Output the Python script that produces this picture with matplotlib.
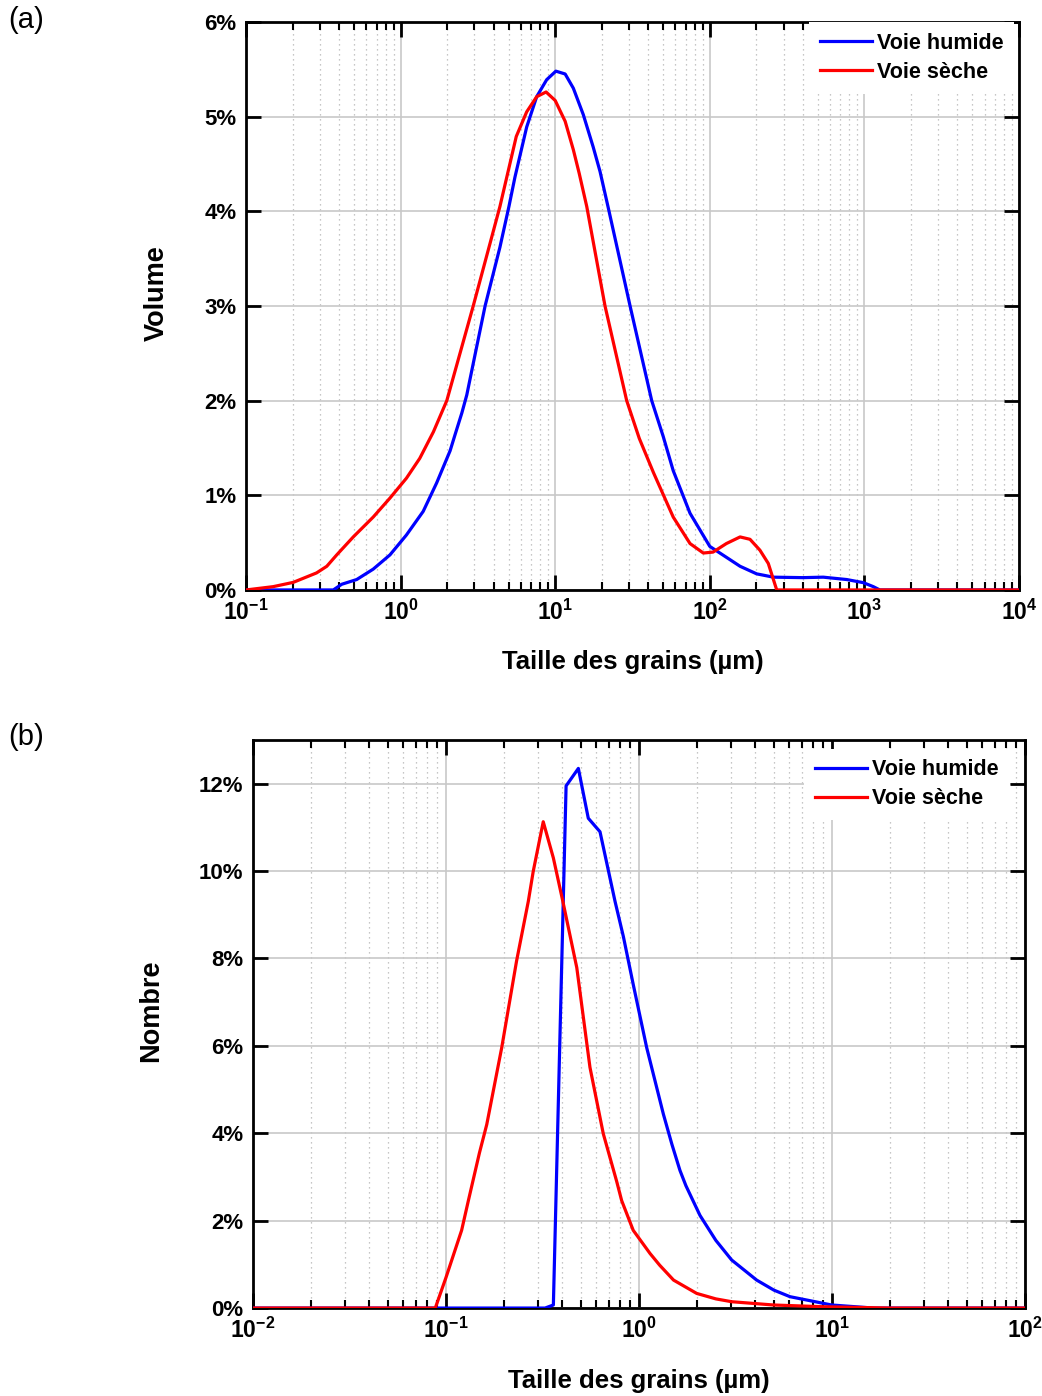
import numpy as np
import matplotlib
matplotlib.use('Agg')
import matplotlib.pyplot as plt
from matplotlib.ticker import FixedLocator, FuncFormatter, LogLocator, NullFormatter

plt.rcParams['font.family'] = ['Liberation Sans', 'DejaVu Sans']
plt.rcParams['mathtext.fontset'] = 'custom'
plt.rcParams['mathtext.bf'] = 'Liberation Sans:bold'
plt.rcParams['mathtext.rm'] = 'Liberation Sans'

# (a) Volume distribution (taille en µm, volume en %)
vol_humide_x = [0.1, 0.367, 0.416, 0.520, 0.665, 0.853, 1.09, 1.40, 1.71, 2.09, 2.25,
                2.49, 2.68, 3.0, 3.52, 4.39, 5.02, 5.49, 6.54, 7.59, 8.81, 10.1, 11.6,
                13.1, 15.2, 17.6, 19.5, 22.3, 30.5, 42.1, 50.0, 58, 74.5, 100, 157, 201,
                258, 400, 542, 768, 984, 1142, 1259, 10000]
vol_humide_y = [0, 0, 0.06, 0.11, 0.22, 0.37, 0.58, 0.83, 1.13, 1.47, 1.64,
                1.87, 2.06, 2.45, 3.0, 3.62, 4.05, 4.36, 4.89, 5.21, 5.39, 5.48, 5.45,
                5.30, 5.02, 4.68, 4.42, 4.0, 3.0, 2.0, 1.62, 1.26, 0.81, 0.46, 0.25, 0.17,
                0.135, 0.13, 0.135, 0.11, 0.077, 0.035, 0, 0]

vol_seche_x = [0.1, 0.150, 0.202, 0.286, 0.333, 0.386, 0.494, 0.665, 0.853, 1.09, 1.33,
               1.63, 1.99, 2.95, 4.39, 5.6, 6.54, 7.59, 8.73, 10.0, 11.6, 13.1, 14.3,
               16.0, 21.0, 29.0, 35.0, 43.2, 58, 74.5, 90.8, 105, 128, 157, 182, 211,
               239, 271, 10000]
vol_seche_y = [0, 0.035, 0.08, 0.18, 0.25, 0.37, 0.56, 0.77, 0.97, 1.18, 1.39,
               1.67, 2.0, 3.0, 4.05, 4.79, 5.05, 5.21, 5.26, 5.17, 4.95, 4.65, 4.40,
               4.05, 3.0, 2.0, 1.60, 1.24, 0.77, 0.49, 0.39, 0.40, 0.49, 0.56, 0.535, 0.42,
               0.28, 0, 0]

# (b) Number distribution
nb_humide_x = [0.01, 0.326, 0.360, 0.419, 0.485, 0.546, 0.628, 0.751, 0.830, 0.933,
               1.096, 1.337, 1.48, 1.63, 1.75, 2.07, 2.5, 3.02, 4.07, 5.0, 6.06, 9.95,
               16.4, 100]
nb_humide_y = [0, 0, 0.07, 11.95, 12.35, 11.21, 10.9, 9.31, 8.5, 7.41,
               5.96, 4.44, 3.75, 3.15, 2.8, 2.12, 1.55, 1.10, 0.64, 0.41, 0.26, 0.07,
               0, 0]

nb_seche_x = [0.01, 0.088, 0.1, 0.1205, 0.1306, 0.149, 0.1626, 0.1944, 0.232, 0.267,
              0.283, 0.319, 0.360, 0.403, 0.476, 0.557, 0.653, 0.766, 0.813, 0.933, 1.14,
              1.28, 1.51, 1.99, 2.5, 3.02, 4.97, 9.0, 20, 100]
nb_seche_y = [0, 0, 0.7, 1.78, 2.46, 3.55, 4.2, 5.96, 7.94, 9.31,
              9.99, 11.13, 10.30, 9.31, 7.79, 5.51, 3.99, 2.9, 2.46, 1.78, 1.25,
              0.98, 0.64, 0.335, 0.21, 0.145, 0.07, 0.03, 0, 0]

labels = ['Voie humide', 'Voie sèche']
colors = ['#0000ff', '#ff0000']


def style_axes(ax, xmin, xmax, ymax, ystep):
    ax.set_xscale('log')
    ax.set_xlim(xmin, xmax)
    ax.set_ylim(0, ymax)
    decades = [10.0 ** k for k in range(int(np.log10(xmin)), int(np.log10(xmax)) + 1)]
    ax.xaxis.set_major_locator(FixedLocator(decades))
    ax.xaxis.set_major_formatter(FuncFormatter(
        lambda v, p: r'$\mathbf{10^{%d}}$' % round(np.log10(v))))
    ax.xaxis.set_minor_locator(LogLocator(base=10, subs=np.arange(2, 10), numticks=20))
    ax.xaxis.set_minor_formatter(NullFormatter())
    yt = np.arange(0, ymax + 0.01, ystep)
    ax.set_yticks(yt)
    ax.set_yticklabels(['%d%%' % v for v in yt], fontweight='bold', fontsize=16)
    ax.tick_params(axis='x', which='major', labelsize=16.5, pad=7)
    ax.tick_params(axis='y', which='major', pad=7)
    ax.tick_params(which='major', direction='in', length=11, width=2,
                   top=True, right=True)
    ax.tick_params(which='minor', direction='in', length=6, width=1.5,
                   top=True, right=True)
    ax.grid(which='major', color='#c8c8c8', lw=1.2)
    ax.grid(which='minor', axis='x', color='#b4b4b4', lw=0.9, linestyle=(0, (1, 3)))
    ax.set_axisbelow(True)
    for s in ax.spines.values():
        s.set_linewidth(2)


fig = plt.figure(figsize=(10.42, 13.96), dpi=100)
ax1 = fig.add_axes([0.2361, 0.5774, 0.7418, 0.4069])
ax2 = fig.add_axes([0.2428, 0.0630, 0.7409, 0.4069])

ax1.plot(vol_humide_x, vol_humide_y, color=colors[0], lw=2.3, label=labels[0], zorder=3)
ax1.plot(vol_seche_x, vol_seche_y, color=colors[1], lw=2.3, label=labels[1], zorder=4)
style_axes(ax1, 0.1, 1e4, 6, 1)
ax1.set_xlabel('Taille des grains (µm)', fontsize=18.5, fontweight='bold')
ax1.set_ylabel('Volume', fontsize=19.5, fontweight='bold')
ax1.xaxis.set_label_coords(0.5, -0.106)
ax1.yaxis.set_label_coords(-0.099, 0.523)

ax2.plot(nb_humide_x, nb_humide_y, color=colors[0], lw=2.3, label=labels[0], zorder=3)
ax2.plot(nb_seche_x, nb_seche_y, color=colors[1], lw=2.3, label=labels[1], zorder=4)
style_axes(ax2, 0.01, 100, 13, 2)
ax2.set_xlabel('Taille des grains (µm)', fontsize=18.5, fontweight='bold')
ax2.set_ylabel('Nombre', fontsize=19.5, fontweight='bold')
ax2.xaxis.set_label_coords(0.5, -0.108)
ax2.yaxis.set_label_coords(-0.115, 0.523)

for ax, anchor in [(ax1, (0.994, 1.0)), (ax2, (0.98, 0.985))]:
    leg = ax.legend(loc='upper right', bbox_to_anchor=anchor, borderaxespad=0,
                    prop={'weight': 'bold', 'size': 15.5}, frameon=True,
                    fancybox=False, framealpha=1, edgecolor='none',
                    handlelength=2.4, handletextpad=0.25, labelspacing=0.38,
                    borderpad=0.5)
    leg.set_zorder(5)

fig.text(0.008, 0.986, '(a)', fontsize=21, va='center', ha='left')
fig.text(0.008, 0.472, '(b)', fontsize=21, va='center', ha='left')

fig.savefig('out.png', dpi=100)
